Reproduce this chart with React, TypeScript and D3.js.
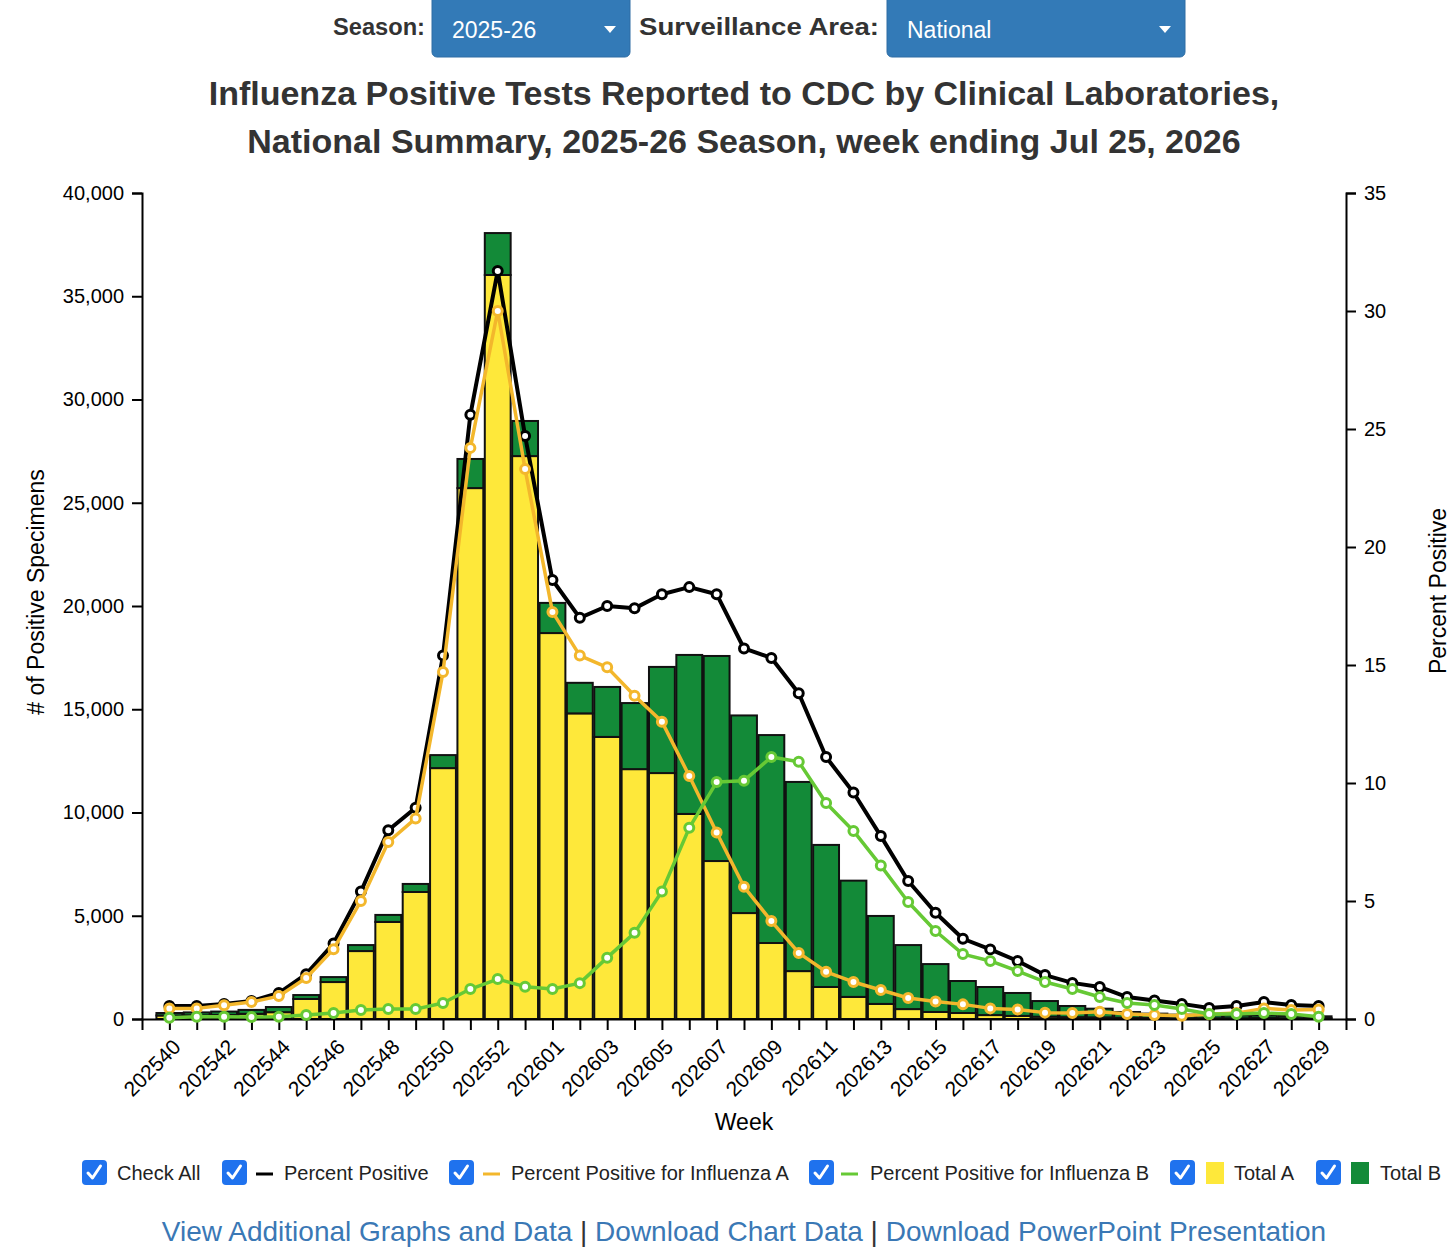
import { useEffect, useRef } from "react";
import * as d3 from "d3";

// MMWR weeks shown on the x axis
const weeks = [
  "202540", "202541", "202542", "202543", "202544", "202545", "202546", "202547",
  "202548", "202549", "202550", "202551", "202552", "202553", "202601", "202602",
  "202603", "202604", "202605", "202606", "202607", "202608", "202609", "202610",
  "202611", "202612", "202613", "202614", "202615", "202616", "202617", "202618",
  "202619", "202620", "202621", "202622", "202623", "202624", "202625", "202626",
  "202627", "202628", "202629",
];

// # of positive specimens
const totalA = [
  170, 180, 200, 250, 330, 970, 1790, 3290, 4700, 6150, 12150, 25710, 36030, 27260,
  18690, 14800, 13660, 12100, 11910, 9930, 7650, 5130, 3680, 2320, 1550, 1070, 730,
  480, 340, 290, 190, 150, 110, 90, 80, 60, 50, 40, 40, 40, 50, 40, 40,
];
const totalB = [
  120, 140, 160, 190, 250, 190, 240, 290, 340, 390, 630, 1410, 2030, 1700, 1460,
  1480, 2420, 3200, 5140, 7700, 9930, 9570, 10070, 9160, 6880, 5630, 4260, 3100,
  2320, 1550, 1360, 1110, 760, 540, 420, 280, 210, 170, 140, 130, 120, 110, 90,
];

// percent positive
const pctPositive = [
  0.55, 0.55, 0.64, 0.76, 1.1, 1.9, 3.2, 5.4, 8.0, 8.95, 15.4, 25.6, 31.7, 24.7,
  18.6, 17.0, 17.5, 17.4, 18.0, 18.3, 18.0, 15.7, 15.3, 13.8, 11.1, 9.6, 7.75, 5.85,
  4.5, 3.4, 2.95, 2.46, 1.86, 1.53, 1.36, 0.93, 0.78, 0.64, 0.47, 0.55, 0.72, 0.59, 0.55,
];
const pctFluA = [
  0.45, 0.45, 0.58, 0.72, 0.97, 1.74, 2.96, 5.0, 7.5, 8.5, 14.7, 24.2, 30.0, 23.3,
  17.25, 15.4, 14.9, 13.7, 12.6, 10.3, 7.9, 5.6, 4.15, 2.8, 2.0, 1.57, 1.23, 0.89,
  0.74, 0.62, 0.45, 0.4, 0.27, 0.25, 0.31, 0.21, 0.17, 0.14, 0.2, 0.25, 0.45, 0.38, 0.4,
];
const pctFluB = [
  0.05, 0.1, 0.1, 0.08, 0.1, 0.17, 0.25, 0.38, 0.42, 0.42, 0.68, 1.27, 1.69, 1.37,
  1.27, 1.52, 2.6, 3.65, 5.4, 8.1, 10.04, 10.1, 11.1, 10.9, 9.15, 7.97, 6.5, 4.96,
  3.73, 2.75, 2.46, 2.03, 1.57, 1.27, 0.93, 0.68, 0.59, 0.42, 0.21, 0.21, 0.25, 0.21, 0.1,
];

const countTicks = [0, 5000, 10000, 15000, 20000, 25000, 30000, 35000, 40000];
const pctTicks = [0, 5, 10, 15, 20, 25, 30, 35];

const titleLines = [
  "Influenza Positive Tests Reported to CDC by Clinical Laboratories,",
  "National Summary, 2025-26 Season, week ending Jul 25, 2026",
];

const COLORS = {
  yellow: "#FEE83A",
  green: "#138A38",
  black: "#000000",
  orange: "#F3B72C",
  lime: "#66C935",
  checkbox: "#1F72EE",
  link: "#3A78B5",
  select: "#337AB7",
};

const FONT = "'Liberation Sans', Arial, Helvetica, sans-serif";

export default function App() {
  const svgRef = useRef<SVGSVGElement>(null);

  useEffect(() => {
    const el = svgRef.current;
    if (!el) return;
    const svg = d3.select(el);
    svg.selectAll("*").remove();
    svg.attr("font-family", FONT);

    const left = 142;
    const right = 1346;
    const top = 193;
    const bottom = 1019;

    const x = d3.scalePoint<string>().domain(weeks).range([left, right]).padding(1);
    const yCount = d3.scaleLinear().domain([0, 40000]).range([bottom, top]);
    const yPct = d3.scaleLinear().domain([0, 35]).range([bottom, top]);
    const barW = x.step() - 1.5;

    // ---- header: selects ----
    const header = svg.append("g");
    header.append("text")
      .attr("x", 425).attr("y", 35)
      .attr("text-anchor", "end")
      .attr("font-size", 23).attr("font-weight", "bold").attr("fill", "#333")
      .attr("textLength", 92).attr("lengthAdjust", "spacingAndGlyphs")
      .text("Season:");
    const selects = [
      { x: 432, w: 198, label: "2025-26" },
      { x: 887, w: 298, label: "National" },
    ];
    selects.forEach((s) => {
      header.append("rect")
        .attr("x", s.x).attr("y", -6).attr("width", s.w).attr("height", 63)
        .attr("rx", 5).attr("fill", COLORS.select).attr("stroke", "#2e6da4");
      header.append("text")
        .attr("x", s.x + 20).attr("y", 38)
        .attr("font-size", 23).attr("fill", "#fff")
        .text(s.label);
      const cx = s.x + s.w - 20;
      header.append("path")
        .attr("d", `M${cx - 6},26 L${cx + 6},26 L${cx},33 Z`)
        .attr("fill", "#fff");
    });
    header.append("text")
      .attr("x", 639).attr("y", 35)
      .attr("font-size", 24).attr("font-weight", "bold").attr("fill", "#333")
      .attr("textLength", 240).attr("lengthAdjust", "spacingAndGlyphs")
      .text("Surveillance Area:");

    // ---- title ----
    titleLines.forEach((t, i) => {
      svg.append("text")
        .attr("x", 744).attr("y", 105 + i * 48)
        .attr("text-anchor", "middle")
        .attr("font-size", 34).attr("font-weight", "bold").attr("fill", "#333")
        .text(t);
    });

    // ---- bars ----
    const bars = svg.append("g");
    weeks.forEach((w, i) => {
      const a = totalA[i];
      const b = totalB[i];
      bars.append("rect")
        .attr("x", (x(w) ?? 0) - barW / 2)
        .attr("y", yCount(a))
        .attr("width", barW)
        .attr("height", bottom - yCount(a))
        .attr("fill", COLORS.yellow)
        .attr("stroke", "#111").attr("stroke-width", 2);
      bars.append("rect")
        .attr("x", (x(w) ?? 0) - barW / 2)
        .attr("y", yCount(a + b))
        .attr("width", barW)
        .attr("height", yCount(a) - yCount(a + b))
        .attr("fill", COLORS.green)
        .attr("stroke", "#111").attr("stroke-width", 2);
    });

    // ---- axes ----
    const styleAxis = (g: d3.Selection<SVGGElement, unknown, null, undefined>) => {
      g.select(".domain").attr("stroke", "#000").attr("stroke-width", 2);
      g.selectAll(".tick line").attr("stroke", "#000").attr("stroke-width", 2);
      g.selectAll(".tick text")
        .attr("fill", "#000").attr("font-size", 20).attr("font-family", FONT);
    };

    svg.append("g")
      .attr("transform", `translate(${left},0)`)
      .call(
        d3.axisLeft(yCount).tickValues(countTicks).tickSize(10).tickPadding(8)
          .tickFormat((d) => d3.format(",")(d as number))
      )
      .call(styleAxis);

    svg.append("g")
      .attr("transform", `translate(${right},0)`)
      .call(d3.axisRight(yPct).tickValues(pctTicks).tickSize(10).tickPadding(8))
      .call(styleAxis);

    svg.append("g")
      .attr("transform", `translate(0,${bottom})`)
      .call(
        d3.axisBottom(x).tickSize(11)
          .tickFormat((d) => (weeks.indexOf(d) % 2 === 0 ? d : ""))
      )
      .call(styleAxis)
      .call((g) =>
        g.selectAll(".tick text")
          .attr("font-size", 21)
          .attr("text-anchor", "end")
          .attr("x", 0).attr("y", 0).attr("dy", "0.35em")
          .attr("transform", "translate(7,24) rotate(-45)")
      );

    // axis titles
    svg.append("text")
      .attr("transform", "translate(44,592) rotate(-90)")
      .attr("text-anchor", "middle").attr("font-size", 23).attr("fill", "#000")
      .text("# of Positive Specimens");
    svg.append("text")
      .attr("transform", "translate(1446,591) rotate(-90)")
      .attr("text-anchor", "middle").attr("font-size", 23).attr("fill", "#000")
      .text("Percent Positive");
    svg.append("text")
      .attr("x", 744).attr("y", 1130)
      .attr("text-anchor", "middle").attr("font-size", 23).attr("fill", "#000")
      .text("Week");

    // ---- lines ----
    const line = d3.line<number>()
      .x((_, i) => x(weeks[i]) ?? 0)
      .y((d) => yPct(d));

    const series = [
      { data: pctPositive, color: COLORS.black, width: 4 },
      { data: pctFluA, color: COLORS.orange, width: 3.5 },
      { data: pctFluB, color: COLORS.lime, width: 3.5 },
    ];
    series.forEach((s) => {
      svg.append("path")
        .datum(s.data)
        .attr("fill", "none")
        .attr("stroke", s.color)
        .attr("stroke-width", s.width)
        .attr("stroke-linejoin", "round")
        .attr("d", line);
      svg.append("g")
        .selectAll("circle")
        .data(s.data)
        .join("circle")
        .attr("cx", (_, i) => x(weeks[i]) ?? 0)
        .attr("cy", (d) => yPct(d))
        .attr("r", 4.5)
        .attr("fill", "#fff")
        .attr("stroke", s.color)
        .attr("stroke-width", 3);
    });

    // ---- legend ----
    const legend = svg.append("g").attr("font-size", 20).attr("fill", "#222");
    const items = [
      { cb: 82, text: 117, label: "Check All", swatch: "none", color: "" },
      { cb: 222, text: 284, label: "Percent Positive", swatch: "line", color: COLORS.black, sx: 256 },
      { cb: 449, text: 511, label: "Percent Positive for Influenza A", swatch: "line", color: COLORS.orange, sx: 483 },
      { cb: 809, text: 870, label: "Percent Positive for Influenza B", swatch: "line", color: COLORS.lime, sx: 841 },
      { cb: 1170, text: 1234, label: "Total A", swatch: "rect", color: COLORS.yellow, sx: 1206 },
      { cb: 1316, text: 1380, label: "Total B", swatch: "rect", color: COLORS.green, sx: 1351 },
    ];
    items.forEach((it) => {
      legend.append("rect")
        .attr("x", it.cb).attr("y", 1160).attr("width", 25).attr("height", 25)
        .attr("rx", 4).attr("fill", COLORS.checkbox);
      legend.append("path")
        .attr("d", `M${it.cb + 6},${1173} L${it.cb + 10.5},${1178} L${it.cb + 18.5},${1166}`)
        .attr("fill", "none").attr("stroke", "#fff").attr("stroke-width", 3)
        .attr("stroke-linecap", "round").attr("stroke-linejoin", "round");
      if (it.swatch === "line") {
        legend.append("line")
          .attr("x1", it.sx!).attr("x2", it.sx! + 17)
          .attr("y1", 1174).attr("y2", 1174)
          .attr("stroke", it.color).attr("stroke-width", 3);
      } else if (it.swatch === "rect") {
        legend.append("rect")
          .attr("x", it.sx!).attr("y", 1162).attr("width", 18).attr("height", 22)
          .attr("fill", it.color);
      }
      legend.append("text")
        .attr("x", it.text).attr("y", 1180)
        .text(it.label);
    });

    // ---- links ----
    const links = svg.append("text")
      .attr("x", 744).attr("y", 1241)
      .attr("text-anchor", "middle").attr("font-size", 28);
    const parts = [
      { t: "View Additional Graphs and Data", c: COLORS.link },
      { t: " | ", c: "#333" },
      { t: "Download Chart Data", c: COLORS.link },
      { t: " | ", c: "#333" },
      { t: "Download PowerPoint Presentation", c: COLORS.link },
    ];
    parts.forEach((p) => {
      links.append("tspan").attr("fill", p.c).text(p.t);
    });
  }, []);

  return (
    <div style={{ position: "absolute", left: 0, top: 0 }}>
      <svg ref={svgRef} width={1456} height={1248} style={{ display: "block", background: "#fff" }} />
    </div>
  );
}
